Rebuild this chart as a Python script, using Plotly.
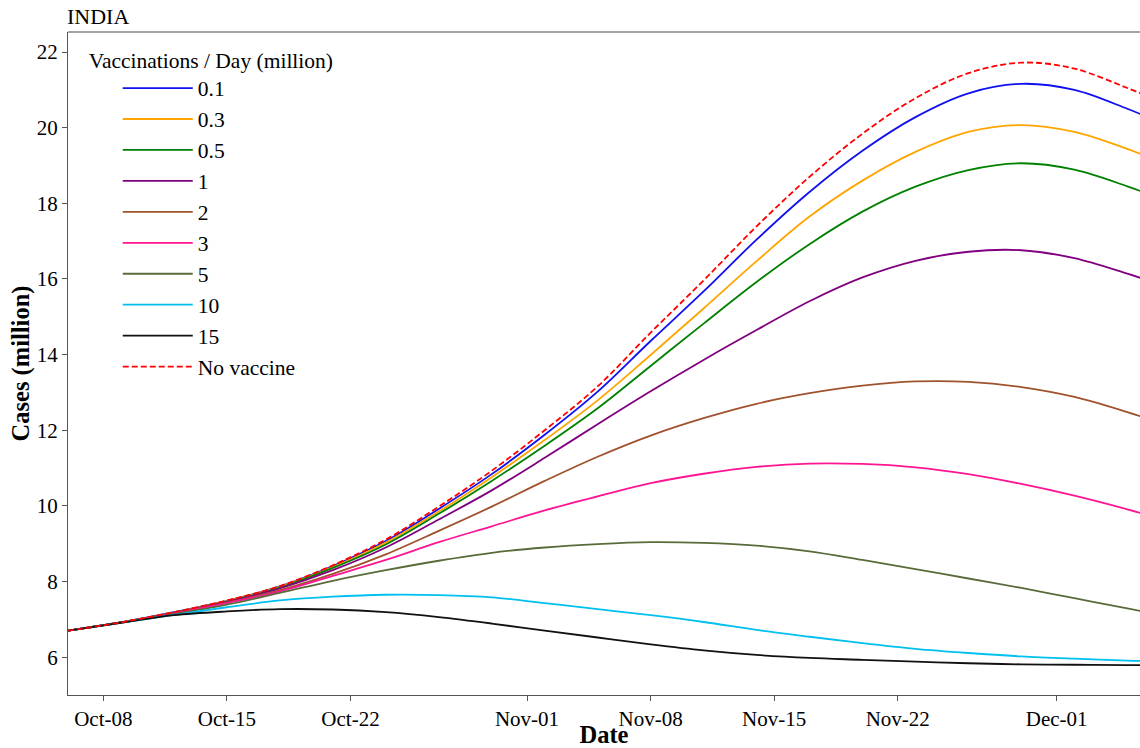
import plotly.graph_objects as go

# sample dates (every 3 days)
dates = ["2021-10-06", "2021-10-09", "2021-10-12", "2021-10-15", "2021-10-18", "2021-10-21",
         "2021-10-24", "2021-10-27", "2021-10-30", "2021-11-02", "2021-11-05", "2021-11-08",
         "2021-11-11", "2021-11-14", "2021-11-17", "2021-11-20", "2021-11-23", "2021-11-26",
         "2021-11-29", "2021-12-02", "2021-12-05", "2021-12-06"]

v_01 = [6.70, 6.92, 7.19, 7.49, 7.87, 8.41, 9.07, 9.92, 10.84, 11.88, 13.02, 14.36,
        15.67, 17.04, 18.30, 19.39, 20.28, 20.91, 21.16, 21.00, 20.50, 20.31]
v_03 = [6.70, 6.92, 7.18, 7.48, 7.86, 8.38, 9.03, 9.85, 10.76, 11.74, 12.79, 13.99,
        15.22, 16.47, 17.65, 18.60, 19.36, 19.89, 20.07, 19.89, 19.44, 19.26]
v_05 = [6.70, 6.92, 7.17, 7.47, 7.84, 8.36, 8.98, 9.79, 10.66, 11.59, 12.58, 13.70,
        14.82, 15.92, 16.92, 17.78, 18.44, 18.88, 19.06, 18.89, 18.45, 18.28]
v_1 = [6.70, 6.92, 7.17, 7.46, 7.82, 8.30, 8.90, 9.64, 10.41, 11.27, 12.16, 13.03,
       13.86, 14.65, 15.41, 16.04, 16.48, 16.72, 16.76, 16.55, 16.14, 15.99]
v_2 = [6.70, 6.92, 7.16, 7.44, 7.77, 8.20, 8.72, 9.34, 9.98, 10.66, 11.30, 11.86,
       12.32, 12.70, 12.98, 13.18, 13.29, 13.28, 13.14, 12.88, 12.48, 12.33]
v_3 = [6.70, 6.92, 7.16, 7.43, 7.74, 8.15, 8.57, 9.04, 9.46, 9.88, 10.25, 10.60,
       10.85, 11.03, 11.12, 11.11, 11.02, 10.84, 10.58, 10.27, 9.91, 9.78]
v_5 = [6.70, 6.92, 7.14, 7.39, 7.70, 8.02, 8.30, 8.55, 8.76, 8.90, 8.99, 9.04,
       9.02, 8.95, 8.80, 8.57, 8.33, 8.08, 7.83, 7.56, 7.29, 7.20]
v_10 = [6.70, 6.91, 7.12, 7.32, 7.50, 7.60, 7.65, 7.64, 7.58, 7.43, 7.27, 7.11,
        6.93, 6.72, 6.54, 6.37, 6.22, 6.11, 6.02, 5.96, 5.91, 5.90]
v_15 = [6.70, 6.91, 7.11, 7.21, 7.27, 7.26, 7.19, 7.06, 6.89, 6.70, 6.52, 6.34,
        6.18, 6.06, 5.98, 5.93, 5.88, 5.84, 5.81, 5.80, 5.79, 5.79]
v_none = [6.70, 6.92, 7.19, 7.50, 7.88, 8.43, 9.11, 9.98, 10.93, 12.00, 13.16, 14.58,
          15.96, 17.39, 18.70, 19.84, 20.78, 21.44, 21.72, 21.56, 21.05, 20.86]

series_names = ["0.1", "0.3", "0.5", "1", "2", "3", "5", "10", "15", "No vaccine"]
series_values = [v_01, v_03, v_05, v_1, v_2, v_3, v_5, v_10, v_15, v_none]
series_colors = ["#1010F0", "#FFA500", "#008000", "#800080", "#A0522D", "#FF1493",
                 "#5A6B3A", "#00C0F0", "#111111", "#FF0000"]

tick_dates = ["2021-10-08", "2021-10-15", "2021-10-22", "2021-11-01",
              "2021-11-08", "2021-11-15", "2021-11-22", "2021-12-01"]
tick_labels = ["Oct-08", "Oct-15", "Oct-22", "Nov-01", "Nov-08", "Nov-15", "Nov-22", "Dec-01"]
y_ticks = [6, 8, 10, 12, 14, 16, 18, 20, 22]

FONT = "Liberation Serif"

fig = go.Figure()
for name, vals, col in zip(series_names, series_values, series_colors):
    dash = "6px,3px" if name == "No vaccine" else "solid"
    fig.add_trace(go.Scatter(
        x=dates, y=vals, mode="lines", name=name,
        line=dict(color=col, width=1.8, dash=dash, shape="spline", smoothing=1.0),
    ))

fig.update_layout(
    width=1140, height=748,
    margin=dict(l=68, r=0, t=32, b=50),
    paper_bgcolor="white", plot_bgcolor="white",
    font=dict(family=FONT, size=21, color="black"),
    showlegend=True,
    legend=dict(
        x=0.0175, y=0.9885, xanchor="left", yanchor="top",
        bgcolor="rgba(0,0,0,0)", borderwidth=0,
        title=dict(text="Vaccinations / Day (million)", font=dict(family=FONT, size=21.5)),
        font=dict(family=FONT, size=21.5),
        indentation=31, itemwidth=70,
    ),
    xaxis=dict(
        type="date", range=["2021-10-06", "2021-12-05 17:17"],
        tickmode="array", tickvals=tick_dates, ticktext=tick_labels,
        showgrid=False, zeroline=False, showline=True, linecolor="#555555", linewidth=1.3,
        ticks="outside", ticklen=5, tickcolor="#555555",
        tickfont=dict(family=FONT, size=21),
        title=dict(text="<b>Date</b>", font=dict(family=FONT, size=24.5), standoff=0),
    ),
    yaxis=dict(
        range=[5.0, 22.53], tickmode="array", tickvals=y_ticks,
        showgrid=False, zeroline=False, showline=True, linecolor="#555555", linewidth=1.3,
        ticks="outside", ticklen=5, tickcolor="#555555",
        tickfont=dict(family=FONT, size=21),
        title=dict(text="<b>Cases (million)</b>", font=dict(family=FONT, size=24.5), standoff=0),
    ),
    shapes=[dict(type="line", xref="paper", yref="paper", x0=0, x1=1, y0=1, y1=1,
                 line=dict(color="#888888", width=1.5))],
    annotations=[dict(text="INDIA", xref="paper", yref="paper", x=0, y=1, xanchor="left",
                      yanchor="bottom", showarrow=False, yshift=1, xshift=-3,
                      font=dict(family=FONT, size=22))],
)

fig.write_html("out.html")
